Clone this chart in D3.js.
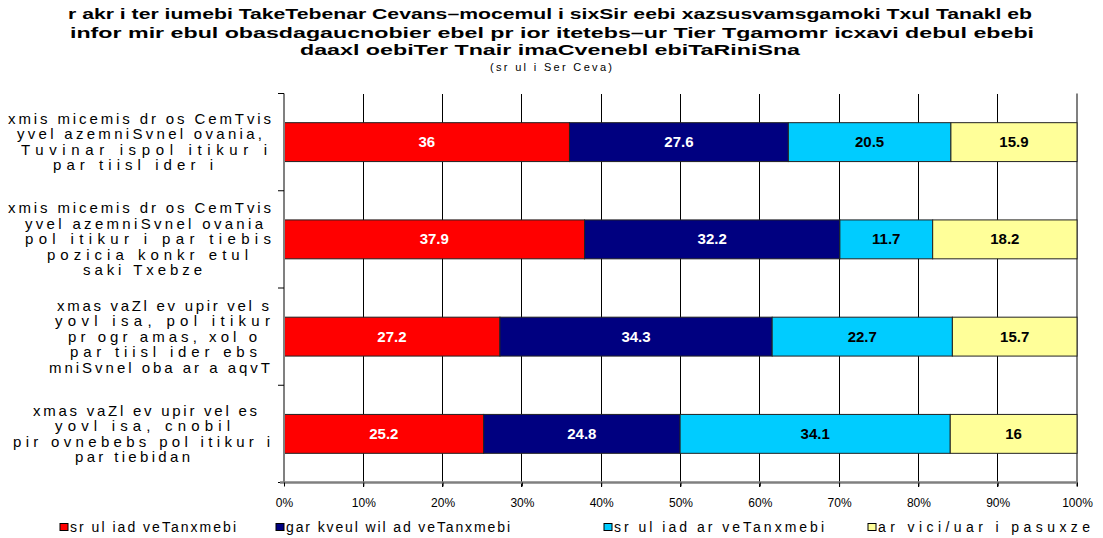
<!DOCTYPE html>
<html>
<head>
<meta charset="utf-8">
<script src="https://cdn.jsdelivr.net/npm/d3@7"></script>
<style>
  html, body { margin: 0; padding: 0; background: #fff; }
  svg { display: block; font-family: "Liberation Sans", Arial, sans-serif; }
</style>
</head>
<body>
<svg id="chart" width="1103" height="538"></svg>
<script>
// Data
const titleLines = [
  'r akr i ter iumebi TakeTebenar Cevans–mocemul i sixSir eebi xazsusvamsgamoki Txul Tanakl eb',
  'infor mir ebul obasdagaucnobier ebel pr ior itetebs–ur Tier Tgamomr icxavi debul ebebi',
  'daaxl oebiTer Tnair imaCvenebl ebiTaRiniSna'
];
const subtitle = '(sr ul i Ser Ceva)';

const categories = [
  ['xmis micemis dr os CemTvis', 'yvel azemniSvnel ovania,', 'Tuvinar ispol itikur i', 'par tiisl ider i'],
  ['xmis micemis dr os CemTvis', 'yvel azemniSvnel ovania', 'pol itikur i par tiebis', 'pozicia konkr etul', 'saki Txebze'],
  ['xmas vaZl ev upir vel s', 'yovl isa, pol itikur', 'pr ogr amas, xol o', 'par tiisl ider ebs', 'mniSvnel oba ar a aqvT'],
  ['xmas vaZl ev upir vel es', 'yovl isa, cnobil', 'pir ovnebebs pol itikur i', 'par tiebidan']
];

const seriesNames = ['sr ul iad veTanxmebi', 'gar kveul wil ad veTanxmebi', 'sr ul iad ar veTanxmebi', 'ar vici/uar i pasuxze'];
const fullyAgree    = [36, 37.9, 27.2, 25.2];
const partlyAgree   = [27.6, 32.2, 34.3, 24.8];
const fullyDisagree = [20.5, 11.7, 22.7, 34.1];
const dontKnow      = [15.9, 18.2, 15.7, 16];
const xTicks = [0, 0.1, 0.2, 0.3, 0.4, 0.5, 0.6, 0.7, 0.8, 0.9, 1];

// Layout (kept apart from the data)
const colors = ['#ff0000', '#000080', '#00ccff', '#ffff99'];
const labelColors = ['#fff', '#fff', '#000', '#000'];
const labelSpans = [
  [[8, 271], [17, 262], [21, 267], [53, 213]],
  [[8, 271], [25, 263], [25, 271], [47, 248], [83, 202]],
  [[57, 269], [55, 270], [68, 257], [70, 257], [49, 270]],
  [[33, 257], [55, 230], [13, 270], [75, 190]]
];
const titleSpans = [[68, 1032], [70, 1034], [300, 800]];
const titleY = [19, 38, 55];
const legendSpans = [[60, 70, 236], [276, 286, 510], [604, 614, 824], [868, 878, 1090]];

const margin = { left: 284, right: 26, top: 93.5, bottom: 55.5 };
const W = 1103, H = 538;

const svg = d3.select('#chart');

const rows = categories.map((c, i) => ({
  id: i,
  s0: fullyAgree[i], s1: partlyAgree[i], s2: fullyDisagree[i], s3: dontKnow[i]
}));
const keys = ['s0', 's1', 's2', 's3'];
const stacked = d3.stack().keys(keys).offset(d3.stackOffsetExpand)(rows);

const x = d3.scaleLinear().domain([0, 1]).range([margin.left, W - margin.right]);
const y = d3.scaleBand()
  .domain(rows.map(d => d.id))
  .range([margin.top, H - margin.bottom])
  .paddingInner(0.6)
  .paddingOuter(0.3);
const step = y.step();
const plotTop = margin.top, plotBottom = H - margin.bottom;

// Gridlines
svg.append('g')
  .attr('class', 'grid')
  .selectAll('line')
  .data(xTicks.slice(1, -1))
  .join('line')
  .attr('x1', d => x(d)).attr('x2', d => x(d))
  .attr('y1', plotTop).attr('y2', plotBottom + 4)
  .attr('stroke', '#000')
  .attr('stroke-width', 1)
  .attr('shape-rendering', 'crispEdges');

// right border at 100%
svg.append('line')
  .attr('x1', x(1)).attr('x2', x(1))
  .attr('y1', plotTop).attr('y2', plotBottom + 4)
  .attr('stroke', '#808080')
  .attr('stroke-width', 2);

// Bars
const layers = svg.append('g').attr('class', 'bars')
  .selectAll('g')
  .data(stacked)
  .join('g')
  .attr('fill', (d, i) => colors[i]);

layers.selectAll('rect')
  .data(d => d)
  .join('rect')
  .attr('x', d => x(d[0]))
  .attr('y', d => y(d.data.id))
  .attr('width', d => x(d[1]) - x(d[0]))
  .attr('height', y.bandwidth())
  .attr('stroke', '#222')
  .attr('stroke-width', 1);

// Value labels
const valueSeries = [fullyAgree, partlyAgree, fullyDisagree, dontKnow];
stacked.forEach((layer, i) => {
  svg.append('g')
    .selectAll('text')
    .data(layer)
    .join('text')
    .attr('x', d => (x(d[0]) + x(d[1])) / 2)
    .attr('y', d => y(d.data.id) + y.bandwidth() / 2 + 5)
    .attr('text-anchor', 'middle')
    .attr('font-size', 15)
    .attr('font-weight', 'bold')
    .attr('fill', labelColors[i])
    .text((d, j) => valueSeries[i][j]);
});

// Y axis
const yAxis = svg.append('g').attr('class', 'y-axis');
yAxis.append('line')
  .attr('x1', x(0)).attr('x2', x(0))
  .attr('y1', plotTop).attr('y2', plotBottom)
  .attr('stroke', '#808080').attr('stroke-width', 2);
yAxis.selectAll('line.tick')
  .data(d3.range(rows.length + 1))
  .join('line')
  .attr('class', 'tick')
  .attr('x1', x(0) - 6).attr('x2', x(0))
  .attr('y1', i => plotTop + i * step).attr('y2', i => plotTop + i * step)
  .attr('stroke', '#000').attr('stroke-width', 1);

// Category labels
categories.forEach((lines, i) => {
  const cy = y(i) + y.bandwidth() / 2;
  const lh = 15.5;
  svg.append('g').attr('class', 'cat-label')
    .selectAll('text')
    .data(lines)
    .join('text')
    .attr('x', (d, j) => (labelSpans[i][j][0] + labelSpans[i][j][1]) / 2)
    .attr('y', (d, j) => cy + (j - (lines.length - 1) / 2) * lh + 5)
    .attr('text-anchor', 'middle')
    .attr('font-size', 15)
    .attr('textLength', (d, j) => labelSpans[i][j][1] - labelSpans[i][j][0])
    .attr('lengthAdjust', 'spacing')
    .attr('fill', '#000')
    .text(d => d);
});

// X axis
const xAxis = svg.append('g')
  .attr('transform', `translate(0,${plotBottom})`)
  .call(d3.axisBottom(x).tickValues(xTicks).tickFormat(d3.format('.0%')).tickSize(4).tickSizeOuter(0));
xAxis.select('.domain').attr('stroke', '#808080').attr('stroke-width', 2.5)
  .attr('d', `M${x(0) - 4},0H${x(1)}`);
xAxis.selectAll('.tick line').attr('stroke', '#000');
xAxis.selectAll('.tick text')
  .attr('font-family', '"Liberation Sans", Arial, sans-serif')
  .attr('font-size', 12)
  .attr('fill', '#000')
  .attr('dy', null)
  .attr('y', 24);

// Title
svg.append('g').attr('class', 'title')
  .selectAll('text')
  .data(titleLines)
  .join('text')
  .attr('x', (d, i) => (titleSpans[i][0] + titleSpans[i][1]) / 2)
  .attr('y', (d, i) => titleY[i])
  .attr('text-anchor', 'middle')
  .attr('font-size', 15)
  .attr('font-weight', 'bold')
  .attr('textLength', (d, i) => titleSpans[i][1] - titleSpans[i][0])
  .attr('lengthAdjust', 'spacingAndGlyphs')
  .text(d => d);

svg.append('text')
  .attr('x', 551)
  .attr('y', 71)
  .attr('text-anchor', 'middle')
  .attr('font-size', 11)
  .attr('textLength', 122)
  .attr('lengthAdjust', 'spacing')
  .text(subtitle);

// Legend
const legend = svg.append('g').attr('class', 'legend')
  .selectAll('g')
  .data(seriesNames)
  .join('g');
legend.append('rect')
  .attr('x', (d, i) => legendSpans[i][0])
  .attr('y', 523.5)
  .attr('width', 8)
  .attr('height', 7)
  .attr('fill', (d, i) => colors[i])
  .attr('stroke', '#000')
  .attr('stroke-width', 1);
legend.append('text')
  .attr('x', (d, i) => legendSpans[i][1])
  .attr('y', 532)
  .attr('font-size', 14)
  .attr('textLength', (d, i) => legendSpans[i][2] - legendSpans[i][1])
  .attr('lengthAdjust', 'spacing')
  .text(d => d);
</script>
</body>
</html>
